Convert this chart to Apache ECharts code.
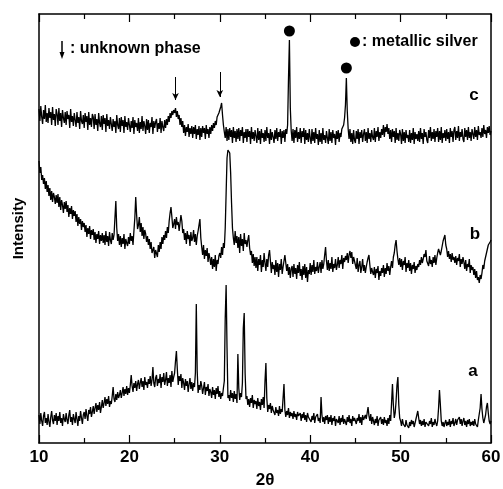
<!DOCTYPE html>
<html>
<head>
<meta charset="utf-8">
<script src="https://cdn.jsdelivr.net/npm/echarts@6/dist/echarts.min.js"></script>
<style>
html,body{margin:0;padding:0;background:#fff;}
#chart{width:503px;height:489px;}
</style>
</head>
<body>
<div id="chart"></div>
<script>
// 2θ sampling grid: start and step of the digitised scans (one row = one degree)
const THETA_START = 10;
const THETA_STEP = 0.1;
const xTicks = [10, 20, 30, 40, 50, 60];

// intensity (arbitrary units, vertical offsets included as in the plot)
const seriesA = [
28,19,30,22,17,27,31,20,25,18,
29,21,16,26,32,23,19,28,22,30,
18,27,22,31,20,25,17,29,24,21,
30,23,19,28,33,21,26,18,29,24,
20,31,24,17,27,22,32,25,19,28,
31,24,34,27,22,33,29,36,26,31,
37,29,35,40,31,38,33,41,30,36,
43,35,40,46,37,44,39,47,36,42,
39,47,56,44,41,49,43,51,45,48,
53,45,50,56,47,54,49,57,48,55,
50,58,68,57,51,60,55,62,52,59,
63,54,60,65,56,62,53,66,58,61,
55,64,59,67,57,63,76,60,56,65,
68,57,64,60,69,55,66,61,70,58,
63,71,57,65,60,68,56,72,61,66,
70,82,92,74,58,67,62,69,55,65,
60,53,64,57,62,51,59,65,54,61,
52,60,56,70,139,72,50,58,53,62,
57,49,55,61,48,56,52,59,47,54,
51,45,56,48,53,44,55,49,57,46,
52,44,50,47,55,62,125,158,95,45,
48,42,53,45,50,41,52,44,49,40,
89,55,43,50,46,60,115,130,70,44,
47,38,44,36,45,40,48,35,43,39,
42,34,45,37,41,33,44,38,46,35,
62,80,45,31,38,34,40,30,37,33,
35,28,36,30,33,27,37,29,34,31,
45,59,33,26,32,28,35,25,31,27,
30,24,32,26,29,23,31,27,25,30,
22,29,25,31,23,28,21,30,26,24,
28,21,27,23,30,20,26,24,29,22,
25,20,46,28,21,26,19,27,23,28,
19,26,21,28,18,25,22,27,17,24,
26,20,27,18,25,21,28,19,24,22,
18,26,21,28,20,24,17,27,22,25,
27,19,25,22,29,20,26,18,28,23,
21,28,24,30,36,27,22,29,19,26,
25,18,24,20,27,17,23,21,26,19,
24,18,26,20,23,17,25,19,28,22,
40,59,38,25,30,42,58,66,38,25,
22,17,24,19,21,16,23,18,20,15,
21,17,23,19,22,16,20,24,26,32,
25,19,23,17,22,18,24,16,21,19,
23,17,22,19,25,16,21,18,24,20,
17,22,35,53,38,22,17,21,16,20,
23,17,21,18,24,16,22,19,25,17,
20,24,18,23,21,26,19,24,17,22,
25,18,22,16,23,19,24,17,21,18,
22,17,24,19,21,16,23,22,35,49,
34,25,20,24,28,36,40,30,22,19,
22];

const seriesB = [
282,270,276,263,268,259,265,254,262,251,
258,247,255,243,252,241,250,246,239,248,
240,249,236,246,233,243,238,230,241,234,
242,231,238,226,235,229,237,224,233,227,
232,221,229,217,226,219,224,213,222,216,
220,211,218,206,215,209,217,204,213,208,
214,203,211,200,209,204,212,199,208,202,
210,200,208,198,212,201,207,197,211,203,
199,210,203,208,225,242,215,202,209,198,
207,196,205,199,209,194,204,200,197,206,
199,210,202,207,198,212,225,246,228,214,
218,226,211,220,207,216,204,213,209,201,
207,198,204,194,201,190,188,196,185,193,
195,186,198,191,201,194,206,199,208,203,
212,205,216,210,222,230,236,226,215,219,
224,214,226,218,221,212,220,228,222,210,
214,203,210,199,212,204,208,197,211,202,
205,213,201,209,198,207,212,218,224,205,
196,188,198,184,193,187,195,181,190,185,
178,186,174,184,176,188,172,183,179,187,
190,185,196,188,200,195,215,250,285,293,
293,290,270,240,215,205,198,212,200,207,
195,206,190,209,197,204,192,210,199,203,
196,203,208,195,188,192,180,189,177,186,
175,186,172,184,178,188,171,183,176,190,
180,172,184,176,188,193,182,170,181,174,
178,168,183,171,180,166,179,173,184,169,
176,182,188,186,172,179,168,176,165,174,
177,166,179,169,175,164,178,170,181,167,
174,163,177,168,179,165,176,161,173,169,
180,168,178,171,183,169,176,172,181,170,
176,181,170,183,174,179,188,196,182,173,
183,172,180,174,186,171,179,175,184,173,
178,186,175,183,179,188,174,185,181,187,
183,190,180,188,192,185,191,179,186,182,
180,174,185,171,178,182,170,176,184,172,
178,170,176,181,185,188,178,169,175,171,
168,176,165,174,170,177,163,172,167,175,
170,178,166,175,169,180,172,177,168,176,
182,175,186,190,198,203,192,184,178,185,
176,184,173,182,178,186,171,180,175,183,
172,180,169,178,174,181,170,177,173,179,
176,183,178,186,180,184,189,186,193,182,
184,177,187,179,183,176,186,180,188,178,
185,190,194,196,188,192,197,202,200,208,
198,194,186,192,184,189,181,190,183,186,
180,187,178,185,182,189,176,184,179,186,
181,174,183,172,179,176,184,170,178,173,
176,168,174,165,172,163,166,160,168,164,
170,178,174,182,186,190,194,198,196,201,
203];

const seriesC = [
334,322,337,326,319,333,324,338,321,330,
320,335,325,331,318,336,323,329,317,334,
329,318,335,322,330,316,333,325,320,331,
318,332,324,328,315,334,321,327,317,330,
329,316,331,320,326,314,332,322,319,328,
315,330,321,327,313,331,318,325,316,329,
326,314,329,318,324,312,330,320,316,327,
313,328,319,325,311,329,317,323,314,326,
327,312,324,316,322,310,328,318,314,325,
311,326,317,323,310,327,316,321,313,325,
324,311,322,315,326,309,323,316,320,312,
325,310,321,314,327,312,322,317,309,324,
313,323,310,320,316,326,309,322,315,321,
324,311,320,314,325,310,322,316,312,323,
315,324,318,327,321,330,325,332,328,333,
330,335,326,332,324,328,318,325,316,322,
310,318,307,316,311,319,306,315,309,317,
305,316,309,318,304,314,308,317,303,315,
306,317,310,315,304,318,309,314,305,316,
309,318,312,320,315,322,318,326,324,330,
332,336,340,328,318,311,305,316,302,314,
303,315,306,313,300,316,305,312,301,314,
304,315,302,313,307,316,300,311,305,314,
301,314,306,312,299,316,304,311,302,313,
307,300,315,303,312,299,314,305,310,301,
313,302,316,305,310,299,314,303,311,306,
300,313,304,315,302,311,306,314,299,312,
305,313,301,314,309,318,365,403,335,312,
302,314,300,313,305,316,301,311,304,315,
300,312,306,315,299,313,303,310,301,314,
305,299,314,302,311,300,315,304,309,298,
313,301,310,299,315,303,308,300,312,305,
299,314,302,311,300,313,305,309,298,312,
304,313,301,310,306,314,312,318,325,338,
365,332,314,304,314,301,310,299,313,303,
300,312,304,314,299,311,305,313,301,309,
314,302,311,300,315,304,310,301,313,306,
303,315,301,312,306,316,302,311,305,314,
308,318,306,316,311,319,309,315,304,313,
301,314,306,312,300,315,303,310,302,313,
309,299,314,302,311,300,313,305,308,301,
313,300,310,303,315,299,311,304,309,302,
312,301,315,304,310,299,314,306,311,303,
300,313,305,316,302,311,304,314,301,312,
306,315,301,312,303,316,300,310,305,313,
302,314,304,311,300,315,306,312,301,313,
316,303,312,305,317,302,311,306,314,304,
301,315,306,313,303,316,305,311,302,314,
312,304,316,306,313,303,317,308,311,305,
315,306,318,309,313,305,316,310,317,308,
312];

// markers on trace c
const silverPeaks = [[37.7, 412], [44.0, 375]];
const unknownPeaks = [[25.1, 366, 343], [30.0, 371, 346]];
const traceLabels = ['a', 'b', 'c'];

function toPairs(arr) {
  return arr.map((v, i) => [+(THETA_START + i * THETA_STEP).toFixed(1), v]);
}

const FONT = '"Liberation Sans", Arial, sans-serif';
const chart = echarts.init(document.getElementById('chart'), null, {renderer: 'canvas'});

const lineSeries = (data) => ({
  type: 'line', data: toPairs(data), symbol: 'none', sampling: 'none',
  lineStyle: {color: '#000', width: 1.3}, animation: false, silent: true, z: 3
});

const sC = lineSeries(seriesC);
sC.markPoint = {
  symbol: 'circle', symbolSize: 11, silent: true, animation: false,
  itemStyle: {color: '#000'}, label: {show: false},
  data: silverPeaks.map(p => ({coord: p}))
};
sC.markLine = {
  silent: true, animation: false, symbol: ['none', 'arrow'], symbolSize: [5, 7],
  lineStyle: {color: '#000', width: 1, type: 'solid'}, label: {show: false},
  data: unknownPeaks.map(p => [{coord: [p[0], p[1]]}, {coord: [p[0], p[2]]}])
};

const axisCommon = {
  type: 'value', min: 10, max: 60, interval: 10,
  axisLine: {show: true, onZero: false, lineStyle: {color: '#000', width: 1.5}},
  axisTick: {show: true, inside: true, length: 8, lineStyle: {color: '#000', width: 1.2}},
  minorTick: {show: true, splitNumber: 2, length: 5, lineStyle: {color: '#000', width: 1.2}},
  splitLine: {show: false}
};

chart.setOption({
  animation: false,
  backgroundColor: '#fff',
  grid: {left: 39, right: 12, top: 14, bottom: 46, containLabel: false, outerBoundsMode: 'none'},
  xAxis: [
    Object.assign({}, axisCommon, {
      position: 'bottom',
      name: '2θ', nameLocation: 'middle', nameGap: 29,
      nameTextStyle: {color: '#000', fontSize: 17, fontWeight: 'bold', fontFamily: FONT},
      axisLabel: {show: true, color: '#000', fontSize: 17, fontWeight: 'bold', fontFamily: FONT, margin: 6,
        formatter: v => xTicks.includes(v) ? String(v) : ''}
    }),
    Object.assign({}, axisCommon, {position: 'top', axisLabel: {show: false}})
  ],
  yAxis: [
    {type: 'value', min: 0, max: 429, position: 'left',
     name: 'Intensity', nameLocation: 'middle', nameGap: 13, nameRotate: 90,
     nameTextStyle: {color: '#000', fontSize: 15, fontWeight: 'bold', fontFamily: FONT},
     axisLine: {show: true, onZero: false, lineStyle: {color: '#000', width: 1.5}},
     axisTick: {show: false}, axisLabel: {show: false}, splitLine: {show: false}},
    {type: 'value', min: 0, max: 429, position: 'right',
     axisLine: {show: true, onZero: false, lineStyle: {color: '#000', width: 1.5}},
     axisTick: {show: false}, axisLabel: {show: false}, splitLine: {show: false}}
  ],
  series: [lineSeries(seriesA), lineSeries(seriesB), sC],
  graphic: [
    {type: 'line', shape: {x1: 62, y1: 41, x2: 62, y2: 54}, style: {stroke: '#000', lineWidth: 1.5}},
    {type: 'polygon', shape: {points: [[59.5, 52], [64.5, 52], [62, 59]]}, style: {fill: '#000'}},
    {type: 'text', style: {text: ': unknown phase', x: 70, y: 49, fill: '#000',
      font: 'bold 16px ' + FONT, verticalAlign: 'middle', align: 'left'}},
    {type: 'circle', shape: {cx: 355, cy: 42, r: 5}, style: {fill: '#000'}},
    {type: 'text', style: {text: ': metallic silver', x: 362, y: 42, fill: '#000',
      font: 'bold 16px ' + FONT, verticalAlign: 'middle', align: 'left'}},
    {type: 'text', style: {text: traceLabels[2], x: 474, y: 95, fill: '#000',
      font: 'bold 17px ' + FONT, verticalAlign: 'middle', align: 'center'}},
    {type: 'text', style: {text: traceLabels[1], x: 475, y: 234, fill: '#000',
      font: 'bold 17px ' + FONT, verticalAlign: 'middle', align: 'center'}},
    {type: 'text', style: {text: traceLabels[0], x: 473, y: 371, fill: '#000',
      font: 'bold 17px ' + FONT, verticalAlign: 'middle', align: 'center'}}
  ]
});
</script>
</body>
</html>
